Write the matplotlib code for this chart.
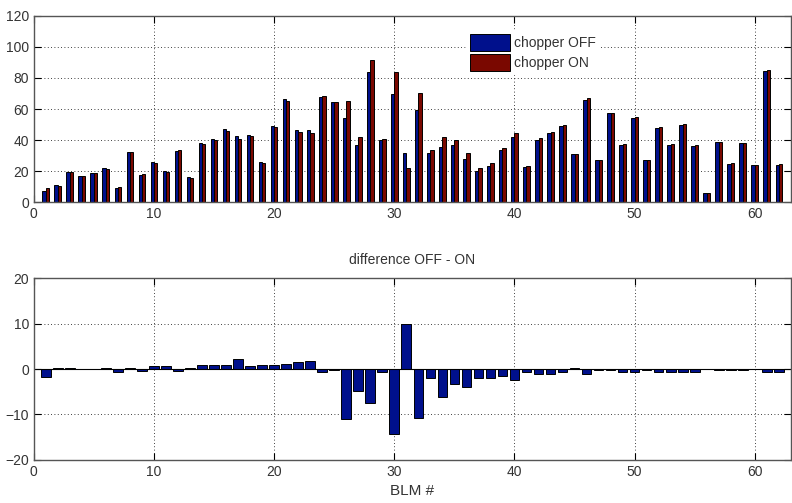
import numpy as np
import matplotlib.pyplot as plt

plt.rcParams['font.family'] = ['Liberation Sans', 'DejaVu Sans']

blm = list(range(1, 63))
chopper_off = [7.3, 10.8, 19.6, 16.8, 18.5, 21.7, 9.3, 32.5, 17.6, 26.0,
               20.0, 32.9, 15.9, 38.3, 40.9, 46.9, 42.9, 43.4, 26.0, 49.0,
               66.2, 46.5, 46.5, 67.7, 64.3, 54.4, 37.0, 84.0, 40.2, 69.6,
               31.8, 59.6, 31.8, 35.5, 36.8, 27.7, 20.2, 23.0, 33.5, 41.9,
               22.8, 40.0, 44.2, 49.0, 31.2, 66.0, 26.9, 57.2, 37.0, 54.1,
               26.9, 47.5, 36.8, 49.7, 36.1, 6.0, 38.6, 24.6, 37.9, 23.7,
               84.7, 23.7]
chopper_on = [9.1, 10.5, 19.3, 16.8, 18.5, 21.4, 9.9, 32.2, 18.0, 25.3,
              19.3, 33.3, 15.6, 37.4, 40.0, 46.0, 40.8, 42.8, 25.2, 48.2,
              65.0, 45.0, 44.7, 68.3, 64.6, 65.4, 41.8, 91.5, 40.8, 83.8,
              21.8, 70.4, 33.8, 41.7, 40.0, 31.7, 22.2, 25.0, 35.1, 44.3,
              23.5, 41.2, 45.4, 49.6, 30.9, 67.0, 27.2, 57.5, 37.6, 54.7,
              27.2, 48.1, 37.4, 50.3, 36.7, 6.0, 38.9, 24.9, 38.2, 23.7,
              85.3, 24.3]

blue = '#00108c'
red = '#7a0800'


def style_axes(ax):
    ax.grid(True, linestyle=(0, (1, 3)), color='black', linewidth=0.6)
    ax.tick_params(direction='in', top=True, right=True, labelsize=10,
                   labelcolor='#333333', color='black', length=5)
    for s in ax.spines.values():
        s.set_color('#555555')
        s.set_linewidth(1.0)
    ax.set_axisbelow(True)


def main():
    x = np.array(blm)
    off = np.array(chopper_off)
    on = np.array(chopper_on)
    diff = off - on

    fig = plt.figure(figsize=(7.92, 5.03), dpi=100)

    ax1 = fig.add_axes([0.0426, 0.5984, 0.9560, 0.3698])
    w = 0.28
    ax1.bar(x - w / 2, off, w, color=blue, edgecolor='black', linewidth=0.7,
            label='chopper OFF')
    ax1.bar(x + w / 2, on, w, color=red, edgecolor='black', linewidth=0.7,
            label='chopper ON')
    ax1.set_xlim(0, 63)
    ax1.set_ylim(0, 120)
    ax1.set_xticks(range(0, 61, 10))
    ax1.set_yticks(range(0, 121, 20))
    style_axes(ax1)
    leg = ax1.legend(loc='upper left', bbox_to_anchor=(0.562, 0.96),
                     fontsize=10, handlelength=2.9, handleheight=1.5,
                     frameon=True, edgecolor='white', framealpha=1,
                     fancybox=False, borderpad=0.25, labelspacing=0.2,
                     handletextpad=0.3)
    for t in leg.get_texts():
        t.set_color('#333333')

    ax2 = fig.add_axes([0.0426, 0.0855, 0.9560, 0.3618])
    ax2.bar(x, diff, 0.8, color=blue, edgecolor='black', linewidth=0.7)
    ax2.axhline(0, color='black', linewidth=0.8)
    ax2.set_xlim(0, 63)
    ax2.set_ylim(-20, 20)
    ax2.set_xticks(range(0, 61, 10))
    ax2.set_yticks(range(-20, 21, 10))
    style_axes(ax2)
    ax2.set_title('difference OFF - ON', fontsize=10, color='#333333', pad=10)
    ax2.set_xlabel('BLM #', fontsize=11, color='#333333', labelpad=4)

    fig.savefig('out.png', dpi=100)


if __name__ == '__main__':
    main()
